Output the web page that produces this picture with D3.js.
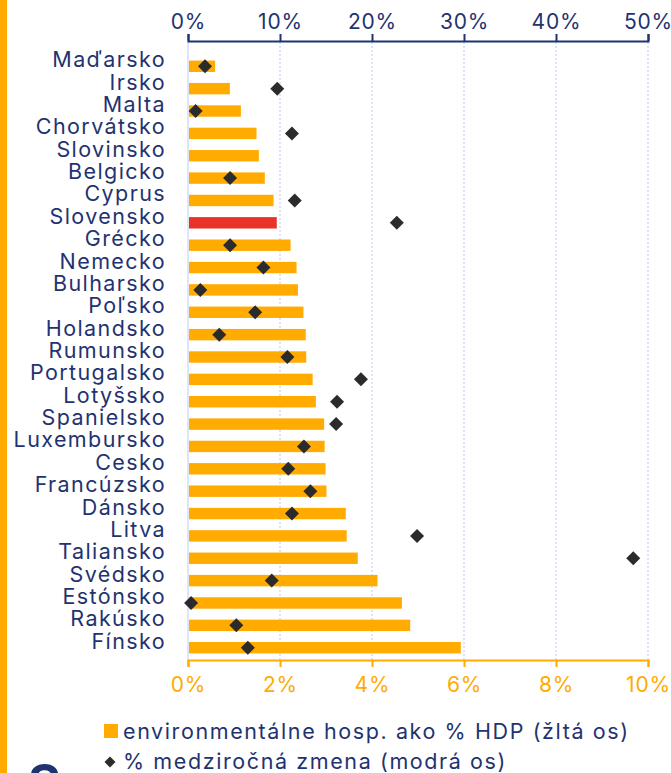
<!DOCTYPE html>
<html>
<head>
<meta charset="utf-8">
<script src="https://cdn.jsdelivr.net/npm/d3@7"></script>
<style>
body { margin: 0; background: #fff; }
svg text { font-family: Inter, "Open Sans", sans-serif; }
</style>
</head>
<body>
<svg class="chart" width="671" height="773"></svg>
<script>
var countries = ["Maďarsko","Irsko","Malta","Chorvátsko","Slovinsko","Belgicko","Cyprus","Slovensko",
  "Grécko","Nemecko","Bulharsko","Poľsko","Holandsko","Rumunsko","Portugalsko","Lotyšsko","Spanielsko",
  "Luxembursko","Cesko","Francúzsko","Dánsko","Litva","Taliansko","Svédsko","Estónsko","Rakúsko","Fínsko"];
// environmental spending as % of GDP (bottom, yellow axis)
var spending = [0.59,0.91,1.15,1.49,1.54,1.67,1.86,1.93,2.23,2.36,2.39,2.51,2.56,2.57,2.71,2.78,2.96,
  2.97,2.99,3.01,3.43,3.45,3.69,4.12,4.65,4.83,5.93];
// year-on-year change in % (top, blue axis); null = no marker
var change = [1.85,9.7,0.83,11.3,null,4.57,11.6,22.7,4.57,8.2,1.34,7.3,3.4,10.8,18.8,16.2,16.1,
  12.6,10.9,13.3,11.3,24.9,48.4,9.1,0.33,5.25,6.5];
var bottomTicks = [0,2,4,6,8,10];
var topTicks = [0,10,20,30,40,50];
var highlight = "Slovensko";

var navy = "#1f3370", orange = "#ffab00", red = "#e8322a", dark = "#2b2b2b";
var svg = d3.select("svg.chart");

var plotLeft = 188, plotRight = 648, plotTop = 55, plotBottom = 660;

// left decorative stripe
svg.append("rect").attr("x",0).attr("y",0).attr("width",7).attr("height",773).attr("fill",orange);

var xB = d3.scaleLinear().domain([0,10]).range([plotLeft,plotRight]);
var xT = d3.scaleLinear().domain([0,50]).range([plotLeft,plotRight]);
var y = d3.scaleBand().domain(countries).range([plotTop, 659]).paddingInner(0.49).paddingOuter(0.25);

// gridlines
svg.append("g").selectAll("line")
  .data(bottomTicks.slice(1))
  .enter().append("line")
  .attr("x1", function(d){return xB(d);}).attr("x2", function(d){return xB(d);})
  .attr("y1", 42).attr("y2", plotBottom)
  .attr("stroke","#cdd6f2").attr("stroke-width",1.3).attr("stroke-dasharray","2,2");
svg.append("line").attr("x1",plotLeft).attr("x2",plotLeft).attr("y1",42).attr("y2",plotBottom)
  .attr("stroke","#d3dcf5").attr("stroke-width",1.5);

// bars
svg.append("g").selectAll("rect")
  .data(countries)
  .enter().append("rect")
  .attr("x", xB(0)+1)
  .attr("y", function(d){return y(d);})
  .attr("width", function(d,i){return xB(spending[i]) - xB(0) - 1;})
  .attr("height", y.bandwidth())
  .attr("fill", function(d){return d===highlight ? red : orange;});

// diamonds
svg.append("g").selectAll("path")
  .data(countries.filter(function(d,i){return change[i]!==null;}))
  .enter().append("path")
  .attr("d", d3.symbol().type(d3.symbolSquare).size(98))
  .attr("transform", function(d){
    var i = countries.indexOf(d);
    return "translate(" + xT(change[i]) + "," + (y(d)+y.bandwidth()/2) + ") rotate(45)";
  })
  .attr("fill", dark);

// category labels
svg.append("g").selectAll("text")
  .data(countries)
  .enter().append("text")
  .attr("x", 166)
  .attr("y", function(d){return y(d)+y.bandwidth()/2 + 1;})
  .attr("text-anchor","end")
  .attr("font-size",21.5)
  .attr("letter-spacing",1.4)
  .attr("fill", navy)
  .text(function(d){return d;});

// top axis
var topAxis = svg.append("g").attr("transform","translate(0,41)")
  .call(d3.axisTop(xT).tickValues(topTicks).tickFormat(function(d){return d+"%";}).tickSize(7).tickSizeOuter(7));
topAxis.select(".domain").attr("stroke",navy).attr("stroke-width",2);
topAxis.selectAll(".tick line").attr("stroke",navy).attr("stroke-width",2);
topAxis.selectAll(".tick text").attr("fill",navy).attr("font-size",21).attr("letter-spacing",0.8)
  .attr("font-family","Inter, sans-serif").attr("dy","-0.1em");

// bottom axis
var botAxis = svg.append("g").attr("transform","translate(0,660)")
  .call(d3.axisBottom(xB).tickValues(bottomTicks).tickFormat(function(d){return d+"%";}).tickSize(7).tickSizeOuter(7));
botAxis.select(".domain").attr("stroke",orange).attr("stroke-width",2);
botAxis.selectAll(".tick text").attr("fill",orange).attr("font-size",21).attr("letter-spacing",0.8)
  .attr("font-family","Inter, sans-serif").attr("dy","1.05em");
botAxis.selectAll(".tick line").attr("stroke",orange).attr("stroke-width",2);

// legend
svg.append("rect").attr("x",104).attr("y",724).attr("width",14).attr("height",14).attr("fill",orange);
svg.append("text").attr("x",123).attr("y",739).attr("font-size",21.5).attr("letter-spacing",1.6)
  .attr("fill",navy).text("environmentálne hosp. ako % HDP (žltá os)");
svg.append("path").attr("d", d3.symbol().type(d3.symbolSquare).size(60))
  .attr("transform","translate(110,762) rotate(45)").attr("fill",dark);
svg.append("text").attr("x",123).attr("y",769).attr("font-size",21.5).attr("letter-spacing",1.6)
  .attr("fill",navy).text("% medziročná zmena (modrá os)");

// cut-off logo glyph at the bottom-left
svg.append("text").attr("x",28).attr("y",800).attr("font-size",50).attr("font-weight","bold")
  .attr("fill",navy).text("S");
</script>
</body>
</html>
